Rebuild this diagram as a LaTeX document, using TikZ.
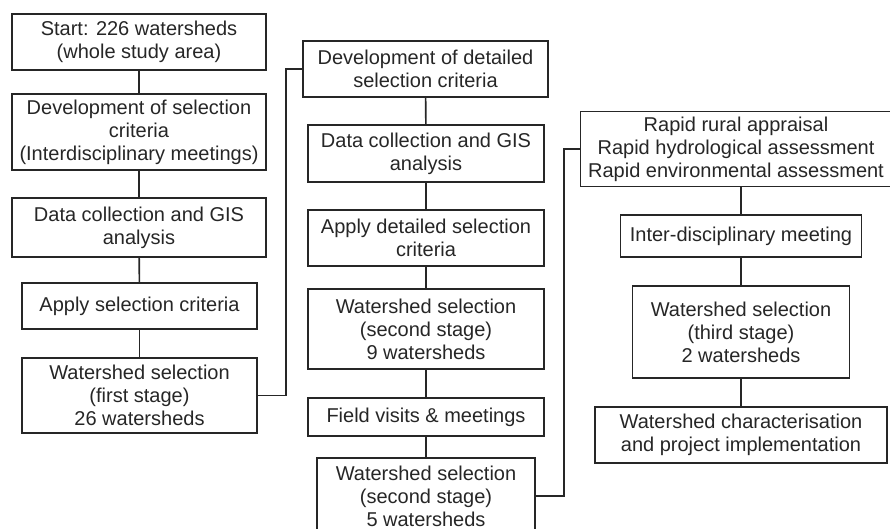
\documentclass[tikz,border=0pt]{standalone}
\usepackage{fontspec}
\setmainfont{Liberation Sans}

\begin{document}
\begin{tikzpicture}[x=1pt,y=-1pt]
 \tikzstyle{every node}=[align=center, inner sep=1pt, text=black!85, font=\fontsize{20}{23}\selectfont]
 \tikzstyle{box}=[draw=black!85, line width=1.5pt]
 \tikzstyle{link}=[draw=black!85, line width=1.6pt]
 \useasboundingbox (0,0) rectangle (890,529);
 % first stage
 \node[box, minimum width=254, minimum height=56] (start) at (139,42) {Start: 226 watersheds\\(whole study area)};
 \node[box, minimum width=254, minimum height=76] (crit1) at (139,132) {Development of selection\\criteria\\(Interdisciplinary meetings)};
 \node[box, minimum width=254, minimum height=59] (gis1) at (139,227.5) {Data collection and GIS\\analysis};
 \node[box, minimum width=235, minimum height=46] (apply1) at (139.5,306) {Apply selection criteria};
 \node[box, minimum width=235, minimum height=75] (sel1) at (139.5,395.5) {Watershed selection\\(first stage)\\26 watersheds};
 % second stage
 \node[box, minimum width=245, minimum height=56] (crit2) at (425.5,69) {Development of detailed\\selection criteria};
 \node[box, minimum width=236, minimum height=57] (gis2) at (426,153.5) {Data collection and GIS\\analysis};
 \node[box, minimum width=236, minimum height=56] (apply2) at (426,238) {Apply detailed selection\\criteria};
 \node[box, minimum width=236, minimum height=80] (sel2) at (426,329) {Watershed selection\\(second stage)\\9 watersheds};
 \node[box, minimum width=236, minimum height=38] (field) at (426,417) {Field visits \& meetings};
 \node[box, minimum width=218, minimum height=76] (sel3) at (426,496) {Watershed selection\\(second stage)\\5 watersheds};
 % third stage
 \node[box, minimum width=311, minimum height=75] (rapid) at (736,149) {Rapid rural appraisal\\Rapid hydrological assessment\\Rapid environmental assessment};
 \node[box, minimum width=241, minimum height=42] (meet) at (741,236) {Inter-disciplinary meeting};
 \node[box, minimum width=217, minimum height=92] (sel4) at (741,332) {Watershed selection\\(third stage)\\2 watersheds};
 \node[box, minimum width=292, minimum height=56] (impl) at (741,435) {Watershed characterisation\\and project implementation};
  \draw[link] (start) -- (crit1);
  \draw[link] (crit1) -- (gis1);
  \draw[link] (gis1) -- (apply1);
  \draw[link] (apply1) -- (sel1);
  \draw[link] (sel1.east) -- ++(28,0) |- (crit2.west);
  \draw[link] (crit2) -- (gis2);
  \draw[link] (gis2) -- (apply2);
  \draw[link] (apply2) -- (sel2);
  \draw[link] (sel2) -- (field);
  \draw[link] (field) -- (sel3);
  \draw[link] (sel3.east) -- ++(28,0) |- (rapid.west);
  \draw[link] (meet) -- (meet |- rapid.south);
  \draw[link] (meet) -- (sel4);
  \draw[link] (sel4) -- (impl);
\end{tikzpicture}
\end{document}
